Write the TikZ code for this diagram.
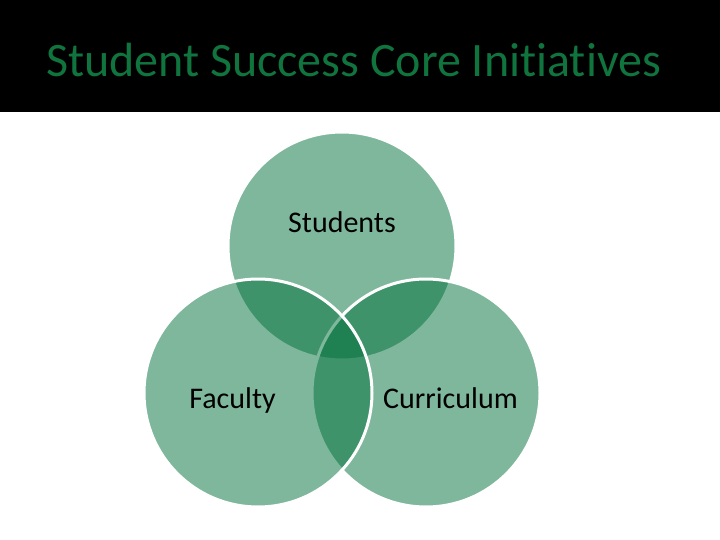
\documentclass[tikz,border=0pt]{standalone}
\usepackage{fontspec}
\setmainfont[Ligatures={NoCommon}]{Carlito}
\usepackage{tikz}
\usetikzlibrary{positioning}
\definecolor{venngreen}{RGB}{0,113,59}
\definecolor{titlegreen}{RGB}{16,116,62}

\begin{document}
\begin{tikzpicture}[x=1pt,y=-1pt] %the core initiatives
    \useasboundingbox (0,0) rectangle (720,540);
    \fill[white] (0,0) rectangle (720,540);
%the title band
    \fill[black] (0,0) rectangle (720,112);
    \node[anchor=base,text=titlegreen,font=\fontsize{48}{58}\selectfont] (title) at (353.5,77) {Student Success Core Initiatives};
%the circles
    \begin{scope}[every node/.style={circle,inner sep=0pt,minimum size=228pt,fill=venngreen,fill opacity=0.5,draw=white,draw opacity=1,line width=3pt}]
       \node (top) at (342,246) {};
       \node (right) at (426,393) {};
       \node (left) at (258,393) {};
    \end{scope}
%the labels
    \begin{scope}[every node/.style={anchor=base,font=\fontsize{30}{36}\selectfont}]
       \node (students) at (342,233) {Students};
       \node (faculty) at (232.5,408) {Faculty};
       \node (curriculum) at (450.5,408) {Curriculum};
    \end{scope}
\end{tikzpicture}
\end{document}
